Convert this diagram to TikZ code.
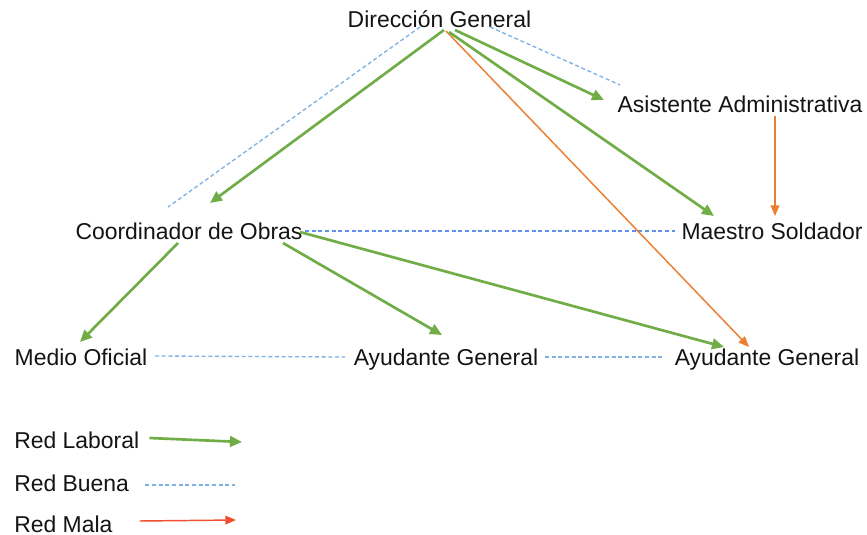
\documentclass[tikz,border=0pt]{standalone}
\usepackage{fontspec}
\setmainfont{Liberation Sans}
\usetikzlibrary{arrows.meta}
\definecolor{lgreen}{HTML}{70AD47}
\definecolor{lorange}{HTML}{ED7D31}
\definecolor{lred}{HTML}{F04E2E}
\definecolor{lblue}{HTML}{7FB0E6}
\definecolor{dblue}{HTML}{5E90EC}
\definecolor{txt}{HTML}{141414}
\tikzset{
  lbl/.style={anchor=base, inner sep=0pt, text=txt, font=\fontsize{17.2}{20}\selectfont},
  lbllegend/.style={lbl, anchor=base west},
  laboral/.style={draw=lgreen, line width=2pt, -{Triangle[length=9pt,width=8pt]}},
  mala/.style={draw=lorange, line width=1.1pt, -{Triangle[length=8pt,width=6.5pt]}},
  buena/.style={draw=lblue, line width=1pt, dash pattern=on 3pt off 2pt},
}
\begin{document}
\begin{tikzpicture}[x=0.75pt,y=-0.75pt]
\useasboundingbox (0,0) rectangle (867,535);
\node[lbl] (dg) at (439.5,27.5) {Dirección General};
\node[lbl] (as) at (740,112.5) {Asistente Administrativa};
\node[lbl] (co) at (189,239.5) {Coordinador de Obras};
\node[lbl] (ms) at (772,239.5) {Maestro Soldador};
\node[lbl] (mo) at (81,365.5) {Medio Oficial};
\node[lbl] (am) at (446,365.5) {Ayudante General};
\node[lbl] (ar) at (767,365.5) {Ayudante General};
% blue dashed
\draw[buena] ([shift={(-19.5,-0.5)}]dg.base) -- ([shift={(-21,-32.5)}]co.base);
\draw[buena] ([shift={(50.5,-0.5)}]dg.base) -- ([shift={(-120,-27.5)}]as.base);
\draw[buena, draw=dblue] ([shift={(116,-8.5)}]co.base) -- ([shift={(-97,-8.5)}]ms.base);
\draw[buena] ([shift={(74,-9.5)}]mo.base) -- ([shift={(-101,-8.5)}]am.base);
\draw[buena] ([shift={(99,-8.5)}]am.base) -- ([shift={(-102,-8.5)}]ar.base);
% orange
\draw[mala] ([shift={(6.5,3.5)}]dg.base) -- ([shift={(-18,-18.5)}]ar.base);
\draw[mala] ([shift={(35,3.5)}]as.base) -- ([shift={(3,-23.5)}]ms.base);
% green
\draw[laboral] ([shift={(4.5,2.5)}]dg.base) -- ([shift={(21,-36.5)}]co.base);
\draw[laboral] ([shift={(15.5,2.5)}]dg.base) -- ([shift={(-136,-12.5)}]as.base);
\draw[laboral] ([shift={(9.5,4.5)}]dg.base) -- ([shift={(-58,-23.5)}]ms.base);
\draw[laboral] ([shift={(-11,3.5)}]co.base) -- ([shift={(-1,-23.5)}]mo.base);
\draw[laboral] ([shift={(94,3.5)}]co.base) -- ([shift={(-4,-30.5)}]am.base);
\draw[laboral] ([shift={(111,-7.5)}]co.base) -- ([shift={(-43,-18.5)}]ar.base);
% legend
\node[lbllegend] (l1) at (14,448.5) {Red Laboral};
\node[lbllegend] (l2) at (14,491) {Red Buena};
\node[lbllegend] (l3) at (14,532) {Red Mala};
\coordinate (l1e) at (242,442);
\coordinate (l2e) at (235,485);
\coordinate (l3e) at (236,520);
\draw[laboral] ([shift={(10,-10.5)}]l1.base east) -- (l1e);
\draw[buena] ([shift={(16,-6)}]l2.base east) -- (l2e);
\draw[mala, draw=lred] ([shift={(27,-11)}]l3.base east) -- (l3e);
\end{tikzpicture}
\end{document}
